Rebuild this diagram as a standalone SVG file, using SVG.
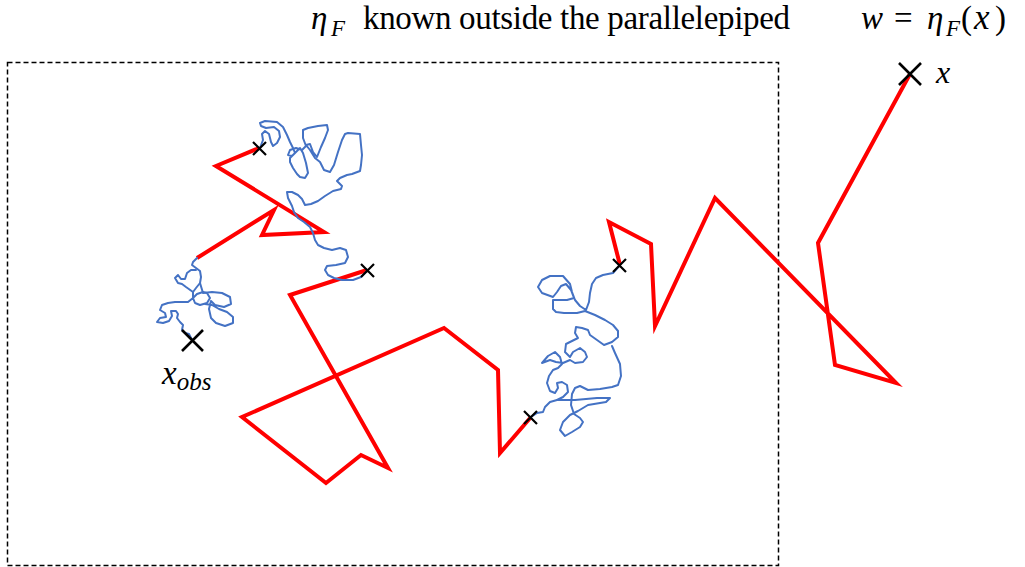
<svg xmlns="http://www.w3.org/2000/svg" width="1025" height="567" viewBox="0 0 1025 567">
<style>
.red{fill:none;stroke:#FF0000;stroke-width:4;stroke-linejoin:miter;stroke-miterlimit:10}
.blue{fill:none;stroke:#4472C4;stroke-width:2;stroke-linejoin:round;stroke-linecap:round}
.cross{stroke:#000;stroke-width:2.2;fill:none}
.bigcross{stroke:#000;stroke-width:2.6;fill:none}
.txt{font-family:"Liberation Serif","Times New Roman",serif;fill:#000}
.math{font-family:"Liberation Serif","Times New Roman",serif;font-style:italic;fill:#000}
</style>
<rect width="1025" height="567" fill="#fff"/>
<g id="box">
<rect x="7.5" y="62.5" width="771" height="503" fill="none" stroke="#000" stroke-width="1.5" stroke-dasharray="5,3"/>
</g>
<g id="title">
<text class="txt" y="29" font-size="33"><tspan class="math" x="311">η</tspan><tspan class="math" font-size="23" x="331" dy="7">F</tspan><tspan x="363" dy="-7" textLength="427" lengthAdjust="spacing">known outside the parallelepiped</tspan></text>
</g>
<g id="formula">
<text class="txt" y="29" font-size="33"><tspan class="math" x="861">w</tspan><tspan x="894">=</tspan><tspan class="math" x="927">η</tspan><tspan class="math" font-size="23" x="946" dy="7">F</tspan><tspan x="961" dy="-7">(</tspan><tspan class="math" x="974" font-size="35">x</tspan><tspan x="995">)</tspan></text>
</g>
<g id="connectors">
<polyline class="red" points="910,74 818,243 835,365 896,383 715,198 655,326 651,244 609,222 620,265"/>
<polyline class="red" points="531,417 500,453 498,370 444,328 242,417 326,483 361,455 388,468 290,295 367,270"/>
<polyline class="red" points="259,148 216,166 324,232 262,235 274,210 197,258"/>
<polyline class="blue" points="260,148 263,140 262,134 265,131 269,134 271,142 273,146 277,143 280,137 279,131 274,127 266,128 261,126 260,123 265,121 277,122 283,127 287,135 290,142 293,148 295,153 290,158 290,162 293,168 297,174 300,177 305,178 308,173 306,163 303,153 300,148 296,152 292,156 288,155 290,150 296,148 302,150 306,146 303,138 303,130 308,128 318,126 327,125 328,130 325,138 321,147 317,157 313,152 310,144 306,145 310,150 315,158 320,162 324,170 330,172 334,165 338,152 342,140 345,134 348,133 360,134 361,145 362,155 361,165 360,171 352,174 347,175 340,178 337,181 342,186 341,189 333,191 325,196 318,201 311,204 305,205 302,199 298,195 292,192 287,192 288,198 292,206 294,212 298,218 304,222 310,227 313,233 315,240 318,245 324,248 332,250 340,248 346,250 348,257 345,263 336,265 327,266 325,270 328,275 334,278 342,280 353,280 361,277 367,271"/>
<polyline class="blue" points="197,258 193,262 192,265 196,268 200,271 201,277 200,283 196,288 193,292 193,298 195,303 200,305 207,303 210,298 207,293 203,292 197,294 193,298 188,302 182,302 175,302 168,303 162,305 160,310 165,313 166,317 160,318 157,322 163,323 169,321 172,316 171,311 176,311 178,314 177,318 180,322 183,325 182,330 185,333 189,334 192,340"/>
<polyline class="blue" points="200,283 203,293 212,292 222,293 230,297 231,304 224,307 215,305 211,301 209,309 211,318 216,323 225,326 233,323 233,317 227,312 219,309 212,305 205,304"/>
<polyline class="blue" points="193,292 186,287 182,284 178,283 175,278 178,275 181,279 185,279 187,273 191,270 196,270"/>
<polyline class="blue" points="620,265 613,273 603,275 596,278 592,284 590,293 589,302 586,310 580,306 575,300 572,292 570,284 563,276 550,276 542,280 538,287 542,293 553,297 557,292 561,286 566,284 571,290 574,298 567,300 553,300 553,309 556,312 564,313 577,313 585,311 595,315 605,320 613,325 618,331 618,337 612,342 604,345 597,340 590,335 588,330 582,328 576,327 575,333 578,338 572,341 566,344 565,352 570,357 573,352 580,348 585,352 587,357 583,362 575,363 570,360 563,363 556,362 550,360 542,363 548,356 555,352 560,357 562,364 558,368 553,370 549,376 547,383 550,391 555,393 558,388 557,383 562,382 567,385 568,392 563,397 557,400 550,402 545,407 543,412 537,413 531,417"/>
<polyline class="blue" points="557,400 575,400 597,398 610,398 606,402 588,405 578,411 570,415 563,422 560,430 565,436 572,432 580,427 583,422 580,418 574,414 571,405 572,394 575,388 580,386 588,390 600,389 612,387 618,385 621,376 620,364 615,353 612,346"/>
</g>
<g id="x-point">
<path class="bigcross" d="M899,63 L921,85 M921,63 L899,85"/>
<text class="math" x="936" y="83" font-size="32">x</text>
</g>
<g id="xobs-point">
<path class="bigcross" d="M182,330 L203,351 M203,330 L182,351"/>
<text class="math" x="162" y="384" font-size="33">x<tspan font-size="25" dy="6">obs</tspan></text>
</g>
<g id="intermediate-points">
<path class="cross" d="M253,142 L266,155 M266,142 L253,155"/>
<path class="cross" d="M361,264 L374,277 M374,264 L361,277"/>
<path class="cross" d="M613,259 L626,272 M626,259 L613,272"/>
<path class="cross" d="M524,411 L537,424 M537,411 L524,424"/>
</g>
</svg>
